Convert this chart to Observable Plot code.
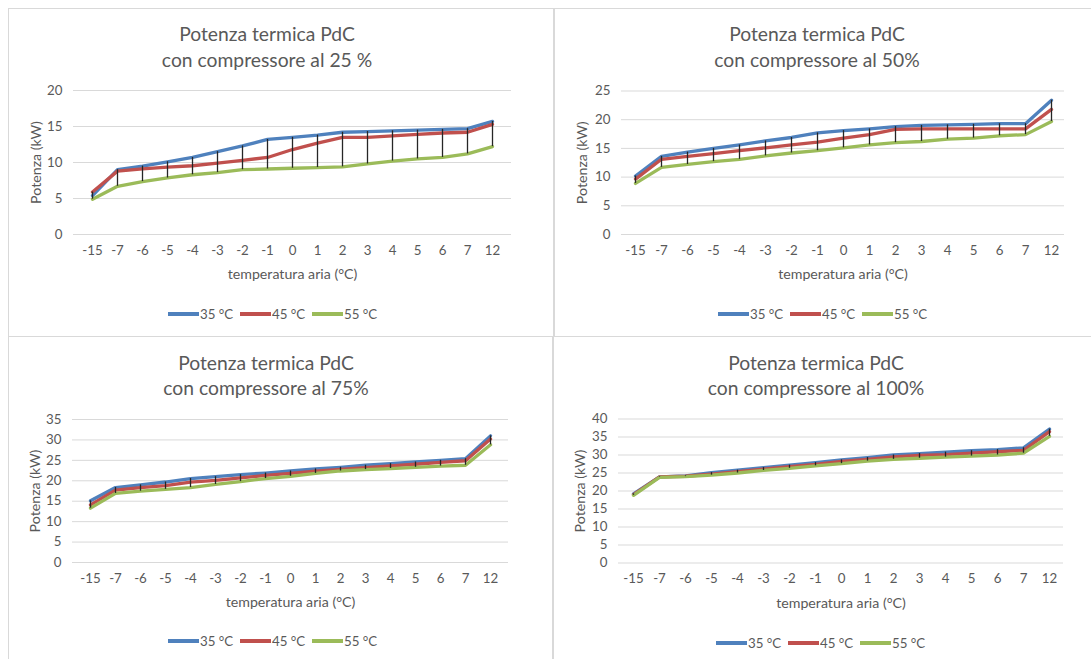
<!DOCTYPE html>
<html><head><meta charset="utf-8">
<script src="https://cdn.jsdelivr.net/npm/d3@7"></script>
<script src="https://cdn.jsdelivr.net/npm/@observablehq/plot@0.6"></script>
<style>
body{margin:0;background:#fff;font-family:Lato,"Open Sans",sans-serif;}
#root{position:relative;width:1091px;height:659px;overflow:hidden;background:#fff;}
.box{position:absolute;border:1px solid #d9d9d9;box-sizing:border-box;}
.tline{position:absolute;width:400px;text-align:center;color:#595959;font-size:19.3px;line-height:26px;white-space:nowrap;}
.legend{position:absolute;display:flex;font-size:13.3px;color:#595959;line-height:16px;}
.item{width:72px;display:flex;align-items:center;white-space:nowrap;}
.sw{display:inline-block;width:31px;height:4px;margin-right:1px;}
svg{position:absolute;overflow:visible;}
</style></head>
<body><div id="root"></div>
<script>
// ---- data ----
const categories = ["-15","-7","-6","-5","-4","-3","-2","-1","0","1","2","3","4","5","6","7","12"];
const seriesNames = ["35 °C","45 °C","55 °C"];
const seriesColors = ["#4f81bd","#c0504d","#9bbb59"];

const ticks25 = [0,5,10,15,20];
const p25_35 = [5.4,9.0,9.5,10.1,10.7,11.5,12.3,13.2,13.5,13.8,14.2,14.3,14.4,14.5,14.6,14.7,15.7];
const p25_45 = [5.9,8.8,9.1,9.35,9.55,9.9,10.3,10.7,11.8,12.7,13.5,13.5,13.7,13.9,14.1,14.2,15.3];
const p25_55 = [4.9,6.7,7.35,7.85,8.3,8.6,9.0,9.1,9.2,9.3,9.4,9.8,10.2,10.5,10.7,11.2,12.2];

const ticks50 = [0,5,10,15,20,25];
const p50_35 = [10.2,13.6,14.35,15.0,15.6,16.3,16.9,17.7,18.1,18.4,18.8,19.0,19.1,19.2,19.3,19.3,23.4];
const p50_45 = [9.65,13.1,13.6,14.1,14.6,15.1,15.6,16.1,16.8,17.4,18.3,18.4,18.4,18.4,18.4,18.4,21.8];
const p50_55 = [8.9,11.7,12.2,12.7,13.1,13.7,14.2,14.6,15.1,15.6,16.0,16.2,16.6,16.8,17.2,17.4,19.7];

const ticks75 = [0,5,10,15,20,25,30,35];
const p75_35 = [15.1,18.35,19.0,19.7,20.55,21.0,21.5,21.9,22.4,22.9,23.3,23.8,24.2,24.6,25.0,25.4,31.0];
const p75_45 = [14.1,17.7,18.3,18.8,19.65,20.1,20.7,21.3,21.8,22.35,22.8,23.2,23.65,24.05,24.5,24.9,30.2];
const p75_55 = [13.3,16.9,17.45,17.9,18.35,19.1,19.8,20.55,21.1,21.8,22.4,22.75,23.0,23.3,23.6,23.8,28.8];

const ticks100 = [0,5,10,15,20,25,30,35,40];
const p100_35 = [19.2,23.95,24.2,25.1,25.8,26.5,27.2,27.9,28.65,29.3,30.0,30.4,30.8,31.2,31.5,32.0,37.2];
const p100_45 = [19.0,23.9,24.1,24.7,25.4,26.1,26.8,27.4,28.2,28.8,29.5,29.9,30.1,30.5,30.9,31.3,36.5];
const p100_55 = [18.8,23.8,24.0,24.4,25.0,25.7,26.3,27.0,27.6,28.3,28.8,29.1,29.4,29.7,30.0,30.5,35.2];

const titleLine1 = "Potenza termica PdC";
const titleLines2 = ["con compressore al 25 %","con compressore al 50%","con compressore al 75%","con compressore al 100%"];
const xTitle = "temperatura aria (°C)";
const yTitle = "Potenza (kW)";

// ---- layout ----
const panels = [
  {t2:titleLines2[0], ticks:ticks25, s:[p25_35,p25_45,p25_55], box:[8,8,546,329], frame:[73,511,90,234], tcx:267, ty:[34,60], lx:168, ly:314, ylx:36},
  {t2:titleLines2[1], ticks:ticks50, s:[p50_35,p50_45,p50_55], box:[554,8,545,329], frame:[621,1064,90.5,234], tcx:817, ty:[34,60], lx:718, ly:314, ylx:582},
  {t2:titleLines2[2], ticks:ticks75, s:[p75_35,p75_45,p75_55], box:[8,336,546,330], frame:[72,508,419,562], tcx:266, ty:[363,388], lx:168, ly:641, ylx:35},
  {t2:titleLines2[3], ticks:ticks100, s:[p100_35,p100_45,p100_55], box:[552,336,545,330], frame:[618,1063,418.5,562.5], tcx:816, ty:[363,388], lx:716, ly:643, ylx:580}
];

const root = document.getElementById("root");
for (const p of panels) {
  const [bl,bt,bw,bh] = p.box;
  const [fx0,fx1,fy0,fy1] = p.frame;
  const box = document.createElement("div");
  box.className = "box";
  Object.assign(box.style,{left:bl+"px",top:bt+"px",width:bw+"px",height:bh+"px"});
  root.appendChild(box);

  [titleLine1, p.t2].forEach((t,i)=>{
    const d = document.createElement("div");
    d.className = "tline"; d.textContent = t;
    d.style.left = (p.tcx-200)+"px"; d.style.top = (p.ty[i]-13)+"px";
    root.appendChild(d);
  });

  const rows = [];
  p.s.forEach((arr,si)=>arr.forEach((v,i)=>rows.push({cat:categories[i], v, series:seriesNames[si]})));
  const hl = categories.map((c,i)=>{
    const vals = p.s.map(a=>a[i]);
    return {cat:c, lo:d3.min(vals), hi:d3.max(vals)};
  });

  const svgLeft = bl, svgTop = bt, svgW = bw - 2, svgH = fy1 - bt + 60;
  const chart = Plot.plot({
    width: svgW, height: svgH,
    marginLeft: fx0 - svgLeft, marginRight: svgLeft + svgW - fx1,
    marginTop: fy0 - svgTop, marginBottom: svgTop + svgH - fy1,
    style: {fontFamily:"Lato, 'Open Sans', sans-serif", fontSize:"13.3px", color:"#595959", background:"transparent", overflow:"visible"},
    x: {type:"point", domain:categories, padding:0.5, label:null, tickSize:0, tickPadding:11},
    y: {domain:[0, d3.max(p.ticks)], ticks:p.ticks, label:null, tickSize:0, tickPadding:11},
    color: {domain:seriesNames, range:seriesColors},
    marks: [
      Plot.ruleY(p.ticks, {stroke:"#d9d9d9", strokeWidth:1}),
      Plot.line(rows, {x:"cat", y:"v", z:"series", stroke:"series", strokeWidth:3.3, strokeLinejoin:"round", strokeLinecap:"round"}),
      Plot.ruleX(hl, {x:"cat", y1:"lo", y2:"hi", stroke:"#262626", strokeWidth:1.3}),
      Plot.text([xTitle], {frameAnchor:"bottom", dy:40, fontSize:14.2, fill:"#595959", lineAnchor:"middle"}),
      Plot.text([yTitle], {frameAnchor:"left", dx:p.ylx - fx0, rotate:-90, fontSize:14.2, fill:"#595959", lineAnchor:"middle", textAnchor:"middle"})
    ]
  });
  chart.style.left = svgLeft+"px"; chart.style.top = svgTop+"px";
  root.appendChild(chart);

  const lg = document.createElement("div");
  lg.className = "legend";
  lg.style.left = p.lx+"px"; lg.style.top = (p.ly-8)+"px";
  seriesNames.forEach((n,i)=>{
    const it = document.createElement("div"); it.className="item";
    const sw = document.createElement("span"); sw.className="sw"; sw.style.background=seriesColors[i];
    const tx = document.createElement("span"); tx.textContent = n;
    it.appendChild(sw); it.appendChild(tx); lg.appendChild(it);
  });
  root.appendChild(lg);
}
</script>
</body></html>
